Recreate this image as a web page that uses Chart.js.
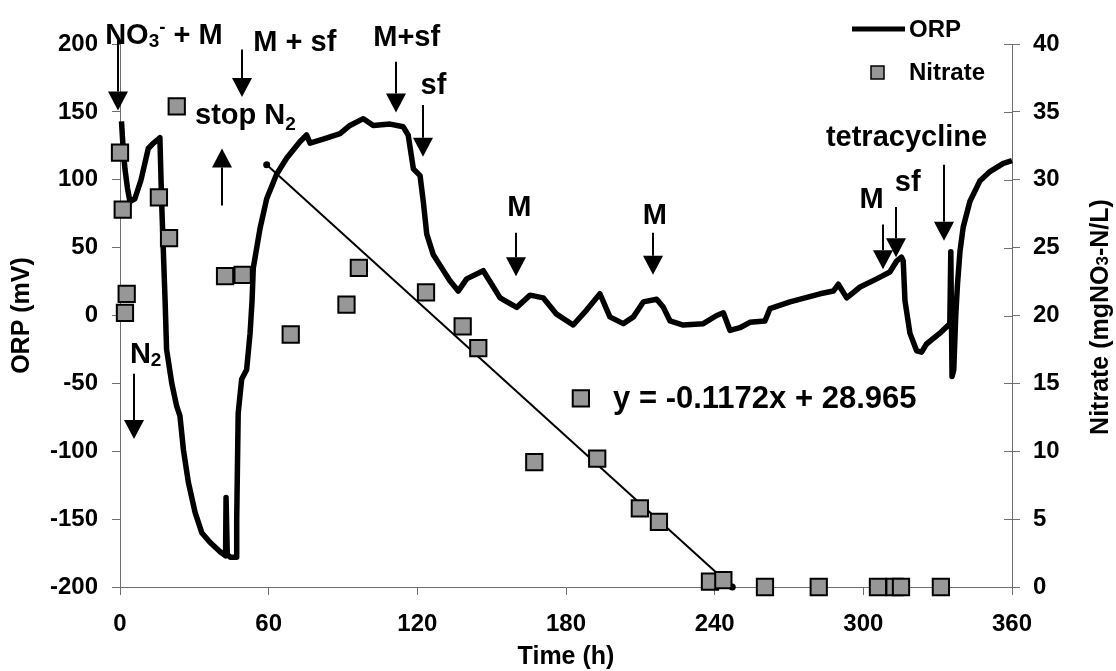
<!DOCTYPE html>
<html>
<head>
<meta charset="utf-8">
<script src="https://cdn.jsdelivr.net/npm/chart.js"></script>
<style>
  html, body { margin: 0; padding: 0; background: #fff; }
  canvas { display: block; }
</style>
</head>
<body>
<canvas id="chart" width="1116" height="671"></canvas>
<script>
// ORP probe record (time in h, ORP in mV)
const orpTime = [0.6, 1.2, 2, 3, 4, 6, 8.5, 11.4, 13.5, 15.5, 16.1, 16.8, 17.5, 18.2, 18.8, 20.9, 22.9, 24.2, 25.6, 27.6,
  30.3, 33, 36.3, 40.4, 42.6, 42.8, 43.3, 44.5, 47.1, 47.1, 47.7, 49.1, 51.1, 52.5, 53.3, 53.8, 56.5, 59.2, 63.2, 67.3,
  72.6, 75.3, 76.7, 82, 88.8, 92.8, 98.2, 102.2, 109, 114.3, 116.3, 118.4, 121.1, 122.4, 123.8, 126.4, 129.5, 133, 136.5, 139.9,
  146.6, 150, 153.4, 160.1, 165.5, 170.8, 176.2, 182.9, 188.3, 193.7, 197.7, 203.1, 207.2, 211.2, 216.6, 219.3, 222, 227.3, 235.4, 240.8,
  243.5, 246.2, 250.2, 254.2, 260.3, 262.3, 270.4, 282.5, 287.9, 289.9, 293.3, 298.7, 305.4, 310.7, 313.4, 315.4, 316.1, 316.8, 318.8, 321.5,
  323.5, 325.5, 330.9, 334.9, 335.3, 335.8, 336.5, 337.3, 338, 339, 340.3, 343, 347, 351.1, 356.5, 360];
const orpMv = [143, 125, 108, 94, 84, 86, 100, 123, 127, 130, 131, 84, 47, 11, -25, -50, -67, -74, -99, -123,
  -145, -160, -167, -174, -177, -134, -176, -178, -178, -150, -72, -47, -40, -13, 11, 35, 64, 86, 104, 116,
  128, 133, 127, 130, 134, 140, 145, 140, 141, 139, 133, 108, 103, 84, 60, 45, 36, 26, 18, 27,
  33, 23, 13, 6, 15, 13, 1, -7, 4, 16, -1, -6, -1, 10, 12, 6, -4, -7, -6, 0,
  2, -11, -9, -5, -4, 5, 10, 16, 18, 23, 13, 21, 27, 32, 40, 43, 40, 11, -13, -26,
  -27, -21, -13, -6, 47, -45, -40, 0, 23, 47, 65, 84, 99, 106, 112, 114];

// Nitrate samples (time in h, mgNO3-N/L)
const nitrateTime = [0, 1.1, 2.7, 2.0, 15.7, 19.8, 22.9, 42.4, 49.5, 68.9, 91.4, 96.4, 123.5, 138.3, 144.6, 167.2, 186,
  192.6, 209.8, 217.5, 238.1, 243.5, 260.3, 282, 305.9, 312.6, 315.2, 331.3];
const nitrateMg = [32.0, 27.8, 21.6, 20.2, 28.7, 25.7, 35.4, 22.9, 23.0, 18.6, 20.8, 23.5, 21.7, 19.2, 17.6, 9.2, 13.9,
  9.45, 5.8, 4.8, 0.4, 0.5, 0, 0, 0, 0, 0, 0];

// Linear trend of nitrate removal
const trendTime = [59.2, 247.1];
const trendMg = [31.1, 0];
const trendLabel = 'y = -0.1172x + 28.965';

// Axis ticks
const timeTicks = [0, 60, 120, 180, 240, 300, 360];
const orpTicks = [-200, -150, -100, -50, 0, 50, 100, 150, 200];
const nitrateTicks = [0, 5, 10, 15, 20, 25, 30, 35, 40];

// Dosing events: [time h, ORP at tail, ORP at arrow tip]
const eventArrows = [
  [-0.7, 206, 151], [49.1, 196, 161], [41, 81, 123], [111.2, 187, 149.5], [122.4, 155, 117],
  [159.8, 61, 29], [215.2, 61, 30], [307.8, 67, 34], [313.2, 80, 43], [332.5, 111, 55], [5.6, -43, -91]
];
// Event labels: [time h, ORP baseline, align, text segments]
const eventLabels = [
  [-6.0, 199.7, 'left', [['NO'], ['3', 'sub'], ['-', 'sup'], [' + M']]],
  [53.8, 195, 'left', [['M + sf']]],
  [30.3, 141.4, 'left', [['stop N'], ['2', 'sub2']]],
  [102.2, 198.8, 'left', [['M+sf']]],
  [121.3, 163.4, 'left', [['sf']]],
  [161.2, 73.2, 'center', [['M']]],
  [215.9, 67.1, 'center', [['M']]],
  [303.3, 79.2, 'center', [['M']]],
  [312.7, 91.4, 'left', [['sf']]],
  [284.9, 125.1, 'left', [['tetracycline']]],
  [4.0, -35.3, 'left', [['N'], ['2', 'sub']]]
];

const FONT = '"Liberation Sans", Arial, Helvetica, sans-serif';
const AXIS = '#6e6e6e';
const SQUARE_FILL = '#979797';

function richText(ctx, segs, x, y, size, align) {
  const parts = segs.map(([t, kind]) => {
    const fs = kind ? Math.round(size * 0.66) : size;
    ctx.font = `bold ${fs}px ${FONT}`;
    return { t, kind, fs, w: ctx.measureText(t).width };
  });
  const total = parts.reduce((a, p) => a + p.w, 0);
  let cx = align === 'center' ? x - total / 2 : x;
  ctx.textAlign = 'left';
  parts.forEach(p => {
    ctx.font = `bold ${p.fs}px ${FONT}`;
    let dy = 0;
    if (p.kind === 'sub') dy = size * 0.1;
    if (p.kind === 'sub2') dy = size * 0.22;
    if (p.kind === 'sup') dy = -size * 0.38;
    ctx.fillText(p.t, cx, y + dy);
    cx += p.w;
  });
}

function arrow(ctx, x, y0, y1) {
  const dir = Math.sign(y1 - y0);
  const head = 19, half = 10;
  ctx.beginPath();
  ctx.moveTo(x, y0);
  ctx.lineTo(x, y1 - dir * head);
  ctx.stroke();
  ctx.beginPath();
  ctx.moveTo(x - half, y1 - dir * head);
  ctx.lineTo(x + half, y1 - dir * head);
  ctx.lineTo(x, y1);
  ctx.closePath();
  ctx.fill();
}

const overlay = {
  id: 'overlay',
  beforeDatasetsDraw(chart) {
    const { ctx, chartArea, scales: { y2 } } = chart;
    ctx.save();
    ctx.strokeStyle = AXIS;
    ctx.lineWidth = 1;
    y2.ticks.forEach(tk => {
      const py = Math.round(y2.getPixelForValue(tk.value)) + 0.5;
      ctx.beginPath();
      ctx.moveTo(chartArea.right - 8, py);
      ctx.lineTo(chartArea.right, py);
      ctx.stroke();
    });
    ctx.restore();
  },
  afterDatasetsDraw(chart) {
    const { ctx, chartArea, scales: { x, y } } = chart;
    ctx.save();
    ctx.fillStyle = '#000';
    ctx.strokeStyle = '#000';
    ctx.lineWidth = 2;
    eventArrows.forEach(([t, from, to]) => {
      arrow(ctx, Math.round(x.getPixelForValue(t)), y.getPixelForValue(from), y.getPixelForValue(to));
    });
    ctx.textBaseline = 'alphabetic';
    eventLabels.forEach(([t, v, align, segs]) => {
      richText(ctx, segs, x.getPixelForValue(t), y.getPixelForValue(v), 29, align);
    });
    // regression equation
    ctx.font = `bold 31px ${FONT}`;
    ctx.textAlign = 'left';
    ctx.fillText(trendLabel, x.getPixelForValue(199), y.getPixelForValue(-68));

    // legend
    const lx = chartArea.right - 160, ly = chartArea.top - 15;
    ctx.lineWidth = 5;
    ctx.beginPath();
    ctx.moveTo(lx, ly);
    ctx.lineTo(lx + 53, ly);
    ctx.stroke();
    ctx.font = `bold 24px ${FONT}`;
    ctx.fillText('ORP', lx + 57, ly + 8);
    ctx.fillStyle = SQUARE_FILL;
    ctx.lineWidth = 1.5;
    ctx.fillRect(lx + 19, ly + 37, 13, 13);
    ctx.strokeRect(lx + 19, ly + 37, 13, 13);
    ctx.fillStyle = '#000';
    ctx.fillText('Nitrate', lx + 57, ly + 51);

    // right axis title
    ctx.save();
    ctx.translate(1101, 317);
    ctx.rotate(-Math.PI / 2);
    ctx.textBaseline = 'middle';
    richText(ctx, [['Nitrate (mgNO'], ['3', 'sub'], ['-N/L)']], 0, 0, 25, 'center');
    ctx.restore();
    ctx.restore();
  }
};

const tickFont = { family: FONT, size: 24, weight: 'bold' };
const gridOpts = { drawOnChartArea: false, drawTicks: true, tickLength: 8, color: AXIS, tickWidth: 1 };
const borderOpts = { display: true, color: AXIS, width: 1 };

new Chart(document.getElementById('chart'), {
  type: 'line',
  data: {
    datasets: [
      {
        label: 'Nitrate',
        data: nitrateTime.map((t, i) => ({ x: t, y: nitrateMg[i] })),
        yAxisID: 'y2',
        showLine: false,
        pointStyle: 'rect',
        pointRadius: 11.5,
        pointBorderWidth: 2,
        pointBackgroundColor: SQUARE_FILL,
        pointBorderColor: '#000',
        clip: false,
        order: 0
      },
      {
        label: 'trend',
        data: trendTime.map((t, i) => ({ x: t, y: trendMg[i] })),
        yAxisID: 'y2',
        borderColor: '#000',
        borderWidth: 2,
        pointRadius: 3.5,
        pointBackgroundColor: '#000',
        pointBorderWidth: 0,
        clip: false,
        order: 1
      },
      {
        label: 'ORP',
        data: orpTime.map((t, i) => ({ x: t, y: orpMv[i] })),
        yAxisID: 'y',
        borderColor: '#000',
        borderWidth: 5.5,
        borderJoinStyle: 'round',
        borderCapStyle: 'butt',
        pointRadius: 0,
        tension: 0,
        clip: false,
        order: 2
      }
    ]
  },
  options: {
    responsive: false,
    animation: false,
    events: [],
    devicePixelRatio: 1,
    layout: { padding: { top: 44, left: 0, right: 0, bottom: 0 } },
    plugins: { legend: { display: false }, tooltip: { enabled: false } },
    scales: {
      x: {
        type: 'linear', position: 'bottom', min: 0, max: 360,
        afterBuildTicks: s => { s.ticks = timeTicks.map(v => ({ value: v })); },
        ticks: { font: tickFont, color: '#000', padding: 15, maxRotation: 0, autoSkip: false },
        grid: gridOpts, border: borderOpts,
        title: { display: true, text: 'Time (h)', color: '#000', font: { family: FONT, size: 25, weight: 'bold', lineHeight: 1.1 }, padding: { top: 0, bottom: 0 } },
        afterFit: s => { s.height = 84; }
      },
      y: {
        position: 'left', min: -200, max: 200,
        afterBuildTicks: s => { s.ticks = orpTicks.map(v => ({ value: v })); },
        ticks: { font: tickFont, color: '#000', padding: 14 },
        grid: gridOpts, border: borderOpts,
        title: { display: true, text: 'ORP (mV)', color: '#000', font: { family: FONT, size: 25, weight: 'bold', lineHeight: 1.2 }, padding: { top: 7, bottom: 0 } },
        afterFit: s => { s.width = 120; }
      },
      y2: {
        position: 'right', min: 0, max: 40,
        afterBuildTicks: s => { s.ticks = nitrateTicks.map(v => ({ value: v })); },
        ticks: { font: tickFont, color: '#000', padding: 13 },
        grid: gridOpts, border: borderOpts,
        afterFit: s => { s.width = 104; }
      }
    }
  },
  plugins: [overlay]
});
</script>
</body>
</html>
